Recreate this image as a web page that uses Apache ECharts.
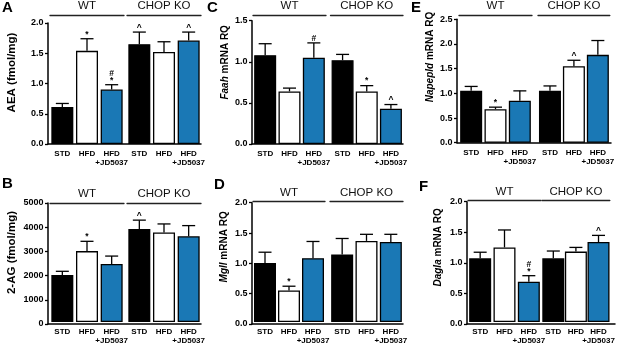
<!DOCTYPE html>
<html>
<head>
<meta charset="UTF-8">
<title></title>
<script src="https://cdn.jsdelivr.net/npm/echarts@6/dist/echarts.min.js"></script>
<style>
	html, body { margin: 0; padding: 0; background: #fff; }
	#main { width: 617px; height: 346px; }
</style>
</head>
<body>
<div id="main"></div>
<script type="text/javascript">
	var groups = ['WT', 'CHOP KO'];
	var cats = ['STD', 'HFD', 'HFD\n+JD5037'];

	// A: AEA
	var aeaMean = [0.61, 1.54, 0.90, 1.65, 1.52, 1.71];
	var aeaSem = [0.06, 0.20, 0.08, 0.20, 0.17, 0.14];
	var aeaSig = ['', '*', '#\n*', '^', '', '^'];
	// B: 2-AG
	var agMean = [1980, 2980, 2440, 3910, 3760, 3600];
	var agSem = [150, 410, 330, 370, 360, 450];
	var agSig = ['', '*', '', '^', '', ''];
	// C: Faah
	var faahMean = [1.08, 0.64, 1.05, 1.02, 0.64, 0.43];
	var faahSem = [0.14, 0.04, 0.18, 0.07, 0.07, 0.05];
	var faahSig = ['', '', '#', '', '*', '^'];
	// D: Mgll
	var mgllMean = [0.99, 0.53, 1.07, 1.13, 1.36, 1.34];
	var mgllSem = [0.18, 0.07, 0.28, 0.27, 0.11, 0.13];
	var mgllSig = ['', '*', '', '', '', ''];
	// E: Napepld
	var napeMean = [1.05, 0.68, 0.85, 1.05, 1.55, 1.78];
	var napeSem = [0.09, 0.04, 0.20, 0.10, 0.12, 0.29];
	var napeSig = ['', '*', '', '', '^', ''];
	// F: Dagla
	var daglaMean = [1.06, 1.24, 0.67, 1.06, 1.17, 1.33];
	var daglaSem = [0.10, 0.29, 0.10, 0.12, 0.07, 0.11];
	var daglaSig = ['', '', '#\n*', '', '', '^'];

	var panels = [
		{ key: 'A', name: 'AEA (fmol/mg)', mean: aeaMean, sem: aeaSem, sig: aeaSig, max: 2, step: 0.5, dec: 1 },
		{ key: 'B', name: '2-AG (fmol/mg)', mean: agMean, sem: agSem, sig: agSig, max: 5000, step: 1000, dec: 0 },
		{ key: 'C', name: '{i|Faah} mRNA RQ', mean: faahMean, sem: faahSem, sig: faahSig, max: 1.5, step: 0.5, dec: 1 },
		{ key: 'D', name: '{i|Mgll} mRNA RQ', mean: mgllMean, sem: mgllSem, sig: mgllSig, max: 2, step: 0.5, dec: 1 },
		{ key: 'E', name: '{i|Napepld} mRNA RQ', mean: napeMean, sem: napeSem, sig: napeSig, max: 2.5, step: 0.5, dec: 1 },
		{ key: 'F', name: '{i|Dagla} mRNA RQ', mean: daglaMean, sem: daglaSem, sig: daglaSig, max: 2, step: 0.5, dec: 1 }
	];

	// panel geometry (px)
	var layout = {
		A: { lx: 2, ly: 0, yx: 48, top: 23, y0: 144, wt: [50, 124], ko: [127, 201], hoff: 8, gap: 30, up: 11, nsize: 11.5 },
		B: { lx: 2, ly: 176, yx: 48, top: 203, y0: 324, wt: [50, 124], ko: [127, 201], hoff: 0, gap: 30, up: 11, nsize: 11.5 },
		C: { lx: 207, ly: 0, yx: 252, top: 20.7, y0: 144, wt: [253, 326], ko: [330.5, 403], hoff: 5.7, gap: 22, up: 20, nsize: 10 },
		D: { lx: 214, ly: 177, yx: 252, top: 202.7, y0: 324, wt: [253, 325], ko: [330, 403], hoff: 1, gap: 23, up: 16.5, nsize: 10 },
		E: { lx: 411, ly: 0, yx: 457, top: 19.3, y0: 142.7, wt: [459, 532], ko: [538, 611], hoff: 4.3, gap: 22, up: 24, nsize: 10 },
		F: { lx: 419, ly: 179, yx: 467, top: 201.7, y0: 324, wt: [468, 541], ko: [542, 615], hoff: 1, gap: 24, up: 15.5, nsize: 10 }
	};

	var font = 'Liberation Sans, Arial, sans-serif';
	var barColors = ['#000000', '#ffffff', '#1a78b5'];

	var option = {
		backgroundColor: '#ffffff',
		animation: false,
		title: [],
		grid: [],
		xAxis: [],
		yAxis: [],
		series: []
	};

	function makeRender(sig) {
		return function(params, api) {
			var j = api.value(0), m = api.value(1), s = api.value(2);
			var base = api.coord([j, m]);
			var top = api.coord([j, m + s]);
			var hw = 6.5;
			var kids = [{
				type: 'line',
				shape: { x1: top[0], y1: base[1], x2: top[0], y2: top[1] },
				style: { stroke: '#000', lineWidth: 1.3 }
			}, {
				type: 'line',
				shape: { x1: top[0] - hw, y1: top[1], x2: top[0] + hw, y2: top[1] },
				style: { stroke: '#000', lineWidth: 1.3 }
			}];
			var mark = sig[params.dataIndex];
			if(mark) {
				kids.push({
					type: 'text',
					style: {
						x: top[0], y: top[1] - 1, text: mark,
						textAlign: 'center', textVerticalAlign: 'bottom',
						font: 'bold 8.5px Liberation Sans', fill: '#000', lineHeight: 7
					}
				});
			}
			return { type: 'group', children: kids };
		};
	}

	panels.forEach(function(p) {
		var L = layout[p.key];
		var g = option.grid.length;
		option.title.push({
			text: p.key, left: L.lx, top: L.ly, padding: 0,
			textStyle: { fontFamily: font, fontWeight: 'bold', fontSize: 15, color: '#000' }
		});
		// main grid: y axis + baseline
		option.grid.push({ left: L.yx, top: L.top, width: L.ko[1] - L.yx, height: L.y0 - L.top });
		option.xAxis.push({
			gridIndex: g, type: 'value', min: 0, max: 1,
			axisLine: { show: true, lineStyle: { color: '#000', width: 1.5 } },
			axisTick: { show: false }, axisLabel: { show: false }, splitLine: { show: false }
		});
		option.yAxis.push({
			gridIndex: g, type: 'value', min: 0, max: p.max, interval: p.step,
			name: p.name, nameLocation: 'middle', nameGap: L.gap, nameRotate: 90,
			nameTextStyle: {
				fontFamily: font, fontWeight: 'bold', fontSize: L.nsize, color: '#000',
				padding: [0, 0, 0, 2 * L.up],
				rich: { i: { fontFamily: font, fontWeight: 'bold', fontStyle: 'italic', fontSize: L.nsize, color: '#000' } }
			},
			axisLine: { show: true, lineStyle: { color: '#000', width: 1.5 } },
			axisTick: { show: true, length: 3, lineStyle: { color: '#000', width: 1.3 } },
			axisLabel: {
				margin: 4.5, fontFamily: font, fontWeight: 'bold', fontSize: 9, color: '#000',
				formatter: function(v) { return v.toFixed(p.dec); }
			},
			splitLine: { show: false }
		});

		[L.wt, L.ko].forEach(function(span, k) {
			var gi = option.grid.length;
			option.grid.push({ left: span[0], top: L.top, width: span[1] - span[0], height: L.y0 - L.top });
			var xi = option.xAxis.length;
			option.xAxis.push({
				gridIndex: gi, type: 'category', data: cats,
				axisLine: { show: false }, axisTick: { show: false },
				axisLabel: { interval: 0, margin: 5, fontFamily: font, fontWeight: 'bold', fontSize: 8, lineHeight: 9.5, color: '#000' }
			});
			option.xAxis.push({
				gridIndex: gi, type: 'category', position: 'top', offset: L.hoff, data: [groups[k]],
				axisLine: { show: true, lineStyle: { color: '#222', width: 1.3 } },
				axisTick: { show: false },
				axisLabel: { margin: 3, fontFamily: font, fontSize: 11.5, color: '#111' }
			});
			var yi = option.yAxis.length;
			option.yAxis.push({ gridIndex: gi, type: 'value', min: 0, max: p.max, show: false });

			var idx = [0, 1, 2].map(function(i) { return i + 3 * k; });
			option.series.push({
				type: 'bar', xAxisIndex: xi, yAxisIndex: yi, barWidth: 22, silent: true,
				itemStyle: { borderColor: '#000', borderWidth: 1.3 },
				data: idx.map(function(i, j) {
					return { value: p.mean[i], itemStyle: { color: barColors[j] } };
				})
			});
			option.series.push({
				type: 'custom', xAxisIndex: xi, yAxisIndex: yi, silent: true, z: 3,
				data: idx.map(function(i, j) { return [j, p.mean[i], p.sem[i]]; }),
				renderItem: makeRender(idx.map(function(i) { return p.sig[i]; }))
			});
		});
	});

	var chart = echarts.init(document.getElementById('main'));
	chart.setOption(option);
</script>
</body>
</html>
